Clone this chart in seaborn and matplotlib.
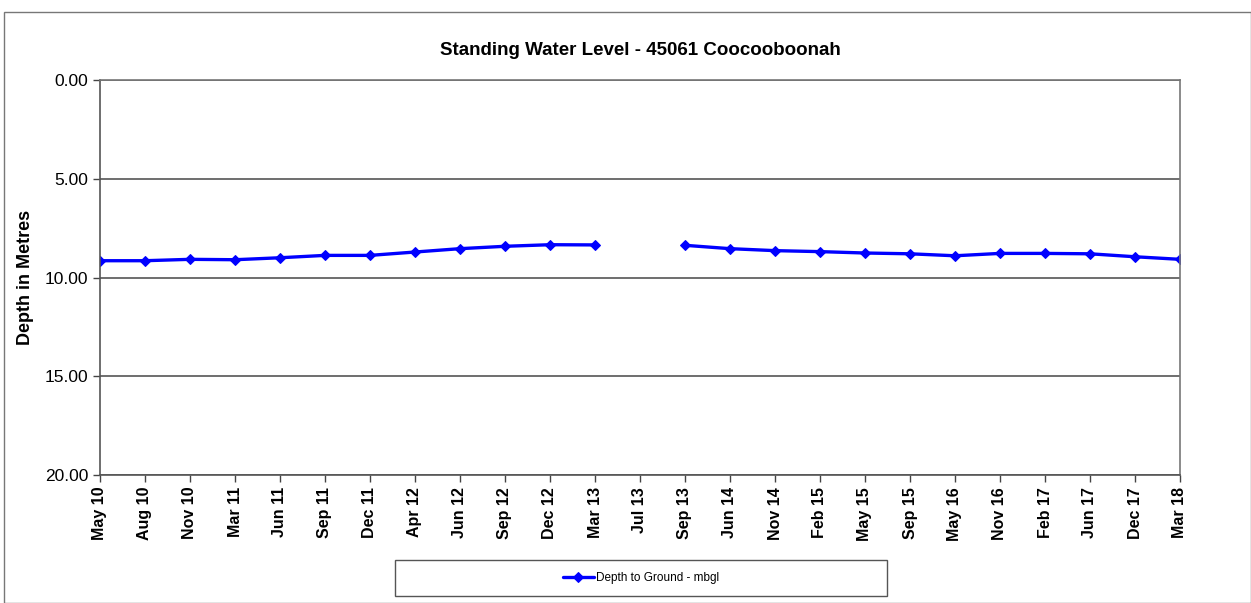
import matplotlib
matplotlib.use("Agg")
import matplotlib.pyplot as plt
import numpy as np
import pandas as pd
import seaborn as sns
from matplotlib.patches import Rectangle

months = ["May 10", "Aug 10", "Nov 10", "Mar 11", "Jun 11", "Sep 11", "Dec 11",
          "Apr 12", "Jun 12", "Sep 12", "Dec 12", "Mar 13", "Jul 13", "Sep 13",
          "Jun 14", "Nov 14", "Feb 15", "May 15", "Sep 15", "May 16", "Nov 16",
          "Feb 17", "Jun 17", "Dec 17", "Mar 18"]
depth = [9.15, 9.15, 9.08, 9.10, 9.00, 8.88, 8.88, 8.71, 8.54, 8.42, 8.34, 8.35,
         np.nan, 8.37, 8.54, 8.64, 8.69, 8.76, 8.80, 8.90, 8.78, 8.78, 8.80,
         8.95, 9.08]
yticks = [0, 5, 10, 15, 20]


def main():
    sns.set_style("white", {"text.color": "black", "axes.labelcolor": "black",
                            "xtick.color": "black", "ytick.color": "black"})
    plt.rcParams["font.family"] = ["Liberation Sans", "DejaVu Sans"]

    df = pd.DataFrame({"month": months, "depth": depth})
    df["pos"] = np.arange(len(df))
    # break the line where the reading is missing
    df["segment"] = df["depth"].isna().cumsum()
    df = df.dropna()

    fig = plt.figure(figsize=(12.51, 6.03), dpi=100)
    ax = fig.add_axes([100 / 1251, 1 - 475 / 603, 1080 / 1251, 395 / 603])

    sns.lineplot(df, x="pos", y="depth", units="segment", estimator=None,
                 color="#0000ff", linewidth=2.4, marker="D", markersize=5.5,
                 markeredgecolor="#0000ff", ax=ax, label="Depth to Ground - mbgl",
                 legend=False)

    ax.set_xlim(0, len(months) - 1)
    ax.set_ylim(20, 0)
    ax.set_yticks(yticks)
    ax.set_yticklabels([f"{v:.2f}" for v in yticks], fontsize=12.5)
    ax.set_xticks(range(len(months)))
    ax.set_xticklabels(months, rotation=90, fontsize=11.5, fontweight="bold")
    ax.tick_params(axis="both", length=5, width=1, color="#444444", direction="out",
                   bottom=True, left=True)
    ax.yaxis.grid(True, color="#555555", linewidth=1.2)
    for s in ax.spines.values():
        s.set_color("#777777")
        s.set_linewidth(1.2)
    ax.spines["left"].set_color("#555555")
    ax.spines["bottom"].set_color("#555555")
    ax.set_xlabel("")
    ax.set_ylabel("Depth in Metres", fontsize=13, fontweight="bold")
    ax.yaxis.set_label_coords(-66 / 1080, 0.5)
    ax.set_title("Standing Water Level - 45061 Coocooboonah", fontsize=13.5,
                 fontweight="bold", pad=18)

    handles, labels = ax.get_legend_handles_labels()
    fig.legend(handles[:1], labels[:1], loc="center",
               bbox_to_anchor=(641 / 1251, 1 - 578 / 603), fontsize=8.5,
               frameon=False, handlelength=2.6, handletextpad=0.2)

    # wide legend box and outer chart border
    fig.patches.append(Rectangle((395 / 1251, 1 - 596 / 603), 492 / 1251, 36 / 603,
                                 transform=fig.transFigure, fill=False,
                                 edgecolor="#555555", linewidth=1))
    fig.patches.append(Rectangle((4 / 1251, 0), 1 - 4 / 1251, 1 - 12 / 603,
                                 transform=fig.transFigure, fill=False,
                                 edgecolor="#777777", linewidth=1))

    fig.savefig("out.png", dpi=100)


if __name__ == "__main__":
    main()
